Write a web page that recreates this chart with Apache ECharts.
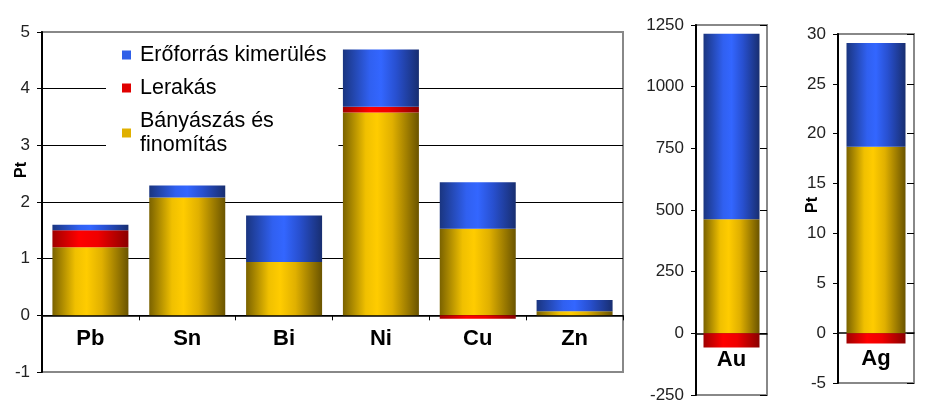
<!DOCTYPE html>
<html><head><meta charset="utf-8">
<script src="https://cdn.jsdelivr.net/npm/echarts@6/dist/echarts.min.js"></script>
<style>html,body{margin:0;padding:0;background:#fff}#c{width:933px;height:412px}</style>
</head><body><div id="c"></div>
<script>
// ---- data ----
const categories = ['Pb', 'Sn', 'Bi', 'Ni', 'Cu', 'Zn'];
const miningMain = [1.20, 2.08, 0.94, 3.58, 1.53, 0.07];
const landfillMain = [0.30, 0, 0, 0.10, -0.06, 0];
const depletionMain = [0.10, 0.21, 0.82, 1.01, 0.82, 0.20];
const auCategory = ['Au'];
const miningAu = [463];
const landfillAu = [-57];
const depletionAu = [752];
const agCategory = ['Ag'];
const miningAg = [18.7];
const landfillAg = [-1.05];
const depletionAg = [10.4];
const seriesNames = ['Bányászás és\nfinomítás', 'Lerakás', 'Erőforrás kimerülés'];
const axisName = 'Pt';

const FONT = '"Liberation Sans", Arial, sans-serif';
function grad(stops) {
  return new echarts.graphic.LinearGradient(0, 0, 1, 0, stops.map(s => ({offset: s[0], color: s[1]})));
}
const yellow = grad([[0,'#7a6200'],[0.3,'#f0c000'],[0.45,'#ffcc00'],[0.65,'#e0b000'],[1,'#6a5400']]);
const red = grad([[0,'#a00000'],[0.35,'#ff0000'],[0.6,'#f00000'],[1,'#8a0000']]);
const blue = grad([[0,'#1a3580'],[0.35,'#3060f0'],[0.5,'#3366ff'],[0.7,'#2850d0'],[1,'#182e70']]);
const colors = [yellow, red, blue];

const chart = echarts.init(document.getElementById('c'), null, {renderer: 'canvas'});

const gridDefs = [
  {left: 42, top: 32, width: 581, height: 340, min: -1, max: 5},
  {left: 696, top: 25, width: 71, height: 370, min: -250, max: 1250},
  {left: 838, top: 34, width: 76, height: 349, min: -5, max: 30}
];
const grids = gridDefs.map(g => ({show: true, borderColor: '#888', borderWidth: 2, backgroundColor: 'transparent',
  left: g.left, top: g.top, width: g.width, height: g.height}));
// offset that lifts the bottom category axis up to the value 0
function zeroOffset(g) { return -g.height * (0 - g.min) / (g.max - g.min); }

function xAx(i, data, ticks, margin) {
  return {
    type: 'category', gridIndex: i, data: data, position: 'bottom',
    offset: zeroOffset(gridDefs[i]),
    axisLine: {onZero: false, lineStyle: {color: '#000', width: 1.5}},
    axisTick: {show: ticks, length: 5, lineStyle: {color: '#000'}},
    axisLabel: {fontFamily: FONT, fontWeight: 'bold', fontSize: 22, color: '#000', margin: margin},
    splitLine: {show: false}
  };
}
function yAx(i, min, max, interval, split) {
  return {
    type: 'value', gridIndex: i, min: min, max: max, interval: interval,
    axisLine: {show: true, lineStyle: {color: '#000', width: 2}},
    axisTick: {show: true, length: 5, lineStyle: {color: '#000'}},
    axisLabel: {fontFamily: FONT, fontSize: 17, color: '#222', margin: 12, formatter: v => String(v)},
    splitLine: split ? {show: true, lineStyle: {color: ['#888','#000','#000','#000','#000','#000','#888'], width: 1.2}} : {show: false}
  };
}
function yRight(i, min, max, interval) {
  return {
    type: 'value', gridIndex: i, min: min, max: max, interval: interval, position: 'right',
    axisLine: {show: true, lineStyle: {color: '#888', width: 2}},
    axisTick: {show: true, inside: true, length: 7, lineStyle: {color: '#000'}},
    axisLabel: {show: false}, splitLine: {show: false}
  };
}

function stackSeries(xi, yi, stack, values, width) {
  return values.map((v, k) => ({
    name: seriesNames[k], type: 'bar', xAxisIndex: xi, yAxisIndex: yi, stack: stack,
    barWidth: width, data: v, itemStyle: {color: colors[k]}, emphasis: {disabled: true}
  }));
}

const option = {
  animation: false,
  backgroundColor: '#fff',
  grid: grids,
  xAxis: [xAx(0, categories, true, 13), xAx(1, auCategory, false, 16), xAx(2, agCategory, false, 15)],
  yAxis: [
    yAx(0, -1, 5, 1, true),
    yAx(1, -250, 1250, 250, false),
    yAx(2, -5, 30, 5, false),
    yRight(1, -250, 1250, 250),
    yRight(2, -5, 30, 5)
  ],
  legend: {
    orient: 'vertical', left: 106, top: 38,
    padding: [5, 12, 5, 16],
    backgroundColor: '#fff',
    itemWidth: 9, itemHeight: 9, itemGap: 9,
    icon: 'rect',
    textStyle: {fontFamily: FONT, fontSize: 21.5, color: '#000', lineHeight: 24, padding: [0, 0, 0, 4]},
    data: [
      {name: seriesNames[2], itemStyle: {color: '#2f5fe8'}},
      {name: seriesNames[1], itemStyle: {color: '#e00000'}},
      {name: seriesNames[0], itemStyle: {color: '#e0b000'}}
    ],
    selectedMode: false
  },
  graphic: [
    {type: 'text', x: 22, y: 170, rotation: Math.PI / 2,
     style: {text: axisName, font: 'bold 16px ' + FONT, fill: '#000', align: 'center', verticalAlign: 'middle'}},
    {type: 'text', x: 813, y: 205, rotation: Math.PI / 2,
     style: {text: axisName, font: 'bold 16px ' + FONT, fill: '#000', align: 'center', verticalAlign: 'middle'}}
  ],
  series: [].concat(
    stackSeries(0, 0, 'main', [miningMain, landfillMain, depletionMain], 76),
    stackSeries(1, 1, 'au', [miningAu, landfillAu, depletionAu], 56),
    stackSeries(2, 2, 'ag', [miningAg, landfillAg, depletionAg], 59)
  )
};
chart.setOption(option);
</script>
</body></html>
